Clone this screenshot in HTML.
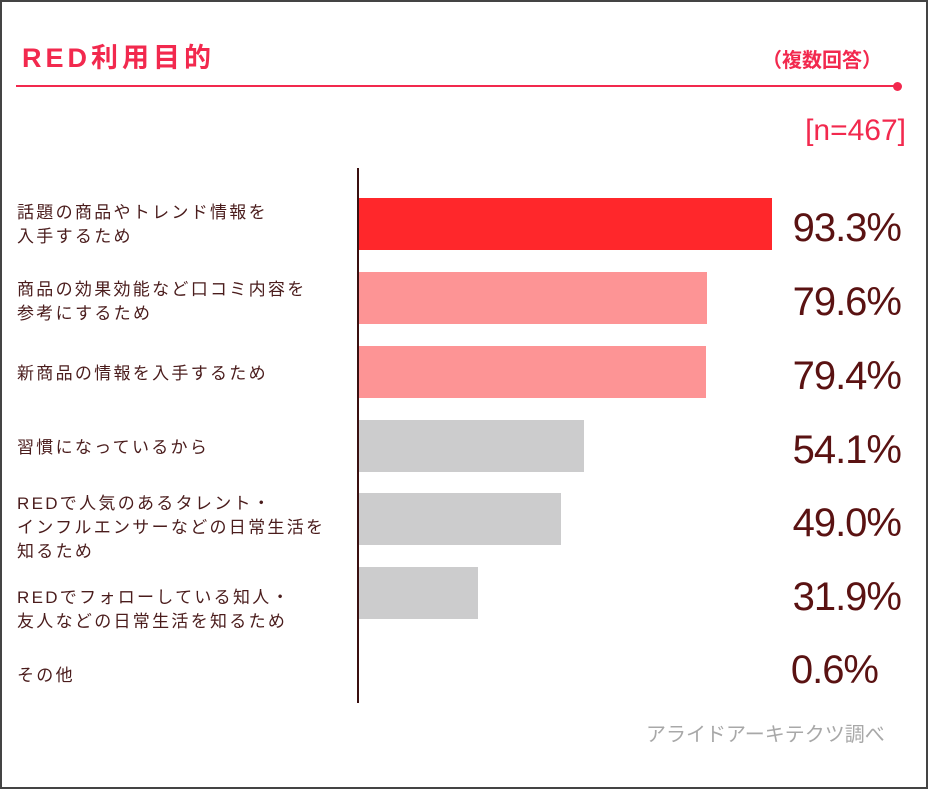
<!DOCTYPE html>
<html><head><meta charset="utf-8"><style>
body{margin:0;width:928px;height:789px;background:#fff;position:relative;overflow:hidden;font-family:"Liberation Sans","Noto Sans CJK JP",sans-serif}
.frame{position:absolute;left:0;top:0;width:924px;height:785px;border:2px solid #444}
.t{position:absolute;white-space:nowrap}
.lab{position:absolute;left:17px;font-size:17px;line-height:24px;color:#4a1c1c;letter-spacing:2.3px;white-space:nowrap}
.bar{position:absolute;left:359px;height:52px}
.pct{position:absolute;right:27px;font-size:40px;color:#5a1212;line-height:40px;letter-spacing:-1px}
</style></head><body>
<div class="frame"></div>
<div class="t" style="left:22px;top:36px;font-size:27px;font-weight:bold;color:#f2294e;letter-spacing:4px">RED利用目的</div>
<div class="t" style="left:762px;top:44px;font-size:20px;font-weight:bold;color:#f2294e">（複数回答）</div>
<div style="position:absolute;left:16px;top:85px;width:882px;height:2px;background:#f2294e"></div>
<div style="position:absolute;left:893px;top:82px;width:9px;height:9px;border-radius:50%;background:#f2294e"></div>
<div class="t" style="right:22px;top:114px;font-size:30px;color:#f2294e">[n=467]</div>
<div style="position:absolute;left:357px;top:168px;width:2px;height:535px;background:#3a1010"></div>

<div class="lab" style="top:201px">話題の商品やトレンド情報を<br>入手するため</div>
<div class="bar" style="top:198px;width:413px;background:#ff272b"></div>
<div class="pct" style="top:208px">93.3%</div>

<div class="lab" style="top:278px">商品の効果効能など口コミ内容を<br>参考にするため</div>
<div class="bar" style="top:272px;width:348px;background:#fd9495"></div>
<div class="pct" style="top:282px">79.6%</div>

<div class="lab" style="top:362px">新商品の情報を入手するため</div>
<div class="bar" style="top:346px;width:347px;background:#fd9495"></div>
<div class="pct" style="top:356px">79.4%</div>

<div class="lab" style="top:436px">習慣になっているから</div>
<div class="bar" style="top:420px;width:225px;background:#cccccd"></div>
<div class="pct" style="top:430px">54.1%</div>

<div class="lab" style="top:492px">REDで人気のあるタレント・<br>インフルエンサーなどの日常生活を<br>知るため</div>
<div class="bar" style="top:493px;width:202px;background:#cccccd"></div>
<div class="pct" style="top:503px">49.0%</div>

<div class="lab" style="top:586px">REDでフォローしている知人・<br>友人などの日常生活を知るため</div>
<div class="bar" style="top:567px;width:119px;background:#cccccd"></div>
<div class="pct" style="top:577px">31.9%</div>

<div class="lab" style="top:664px">その他</div>
<div class="pct" style="top:650px;right:50px">0.6%</div>

<div class="t" style="left:646px;top:718px;font-size:20px;color:#a8a8a8">アライドアーキテクツ調べ</div>
</body></html>
